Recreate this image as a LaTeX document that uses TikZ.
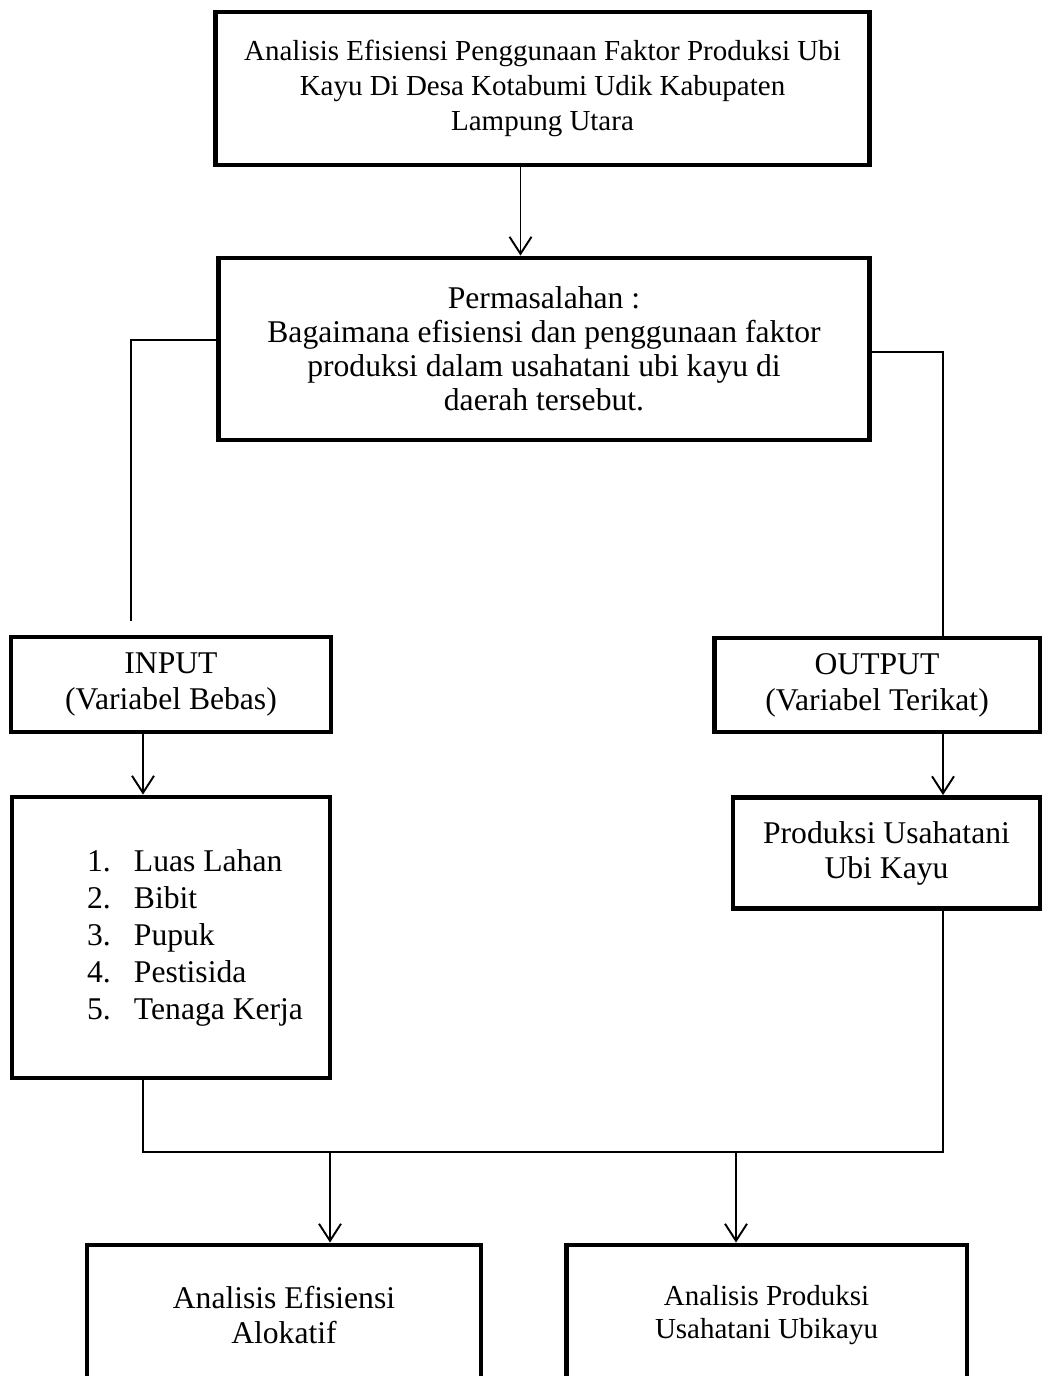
\documentclass[tikz,border=0pt]{standalone}
\usepackage{fontspec}
\setmainfont{Liberation Serif}
\usetikzlibrary{arrows.meta,calc}

\begin{document}
\begin{tikzpicture}[x=0.02cm,y=-0.02cm,
  box/.style={draw,line width=2.8pt,inner sep=0pt,align=center,font=\fontsize{18}{20}\selectfont},
  conn/.style={line width=1.1pt},
  arr/.style={line width=1.1pt,-{Straight Barb[length=3.4mm,width=4.4mm]}}]
\useasboundingbox (0,0) rectangle (1042,1376);
% title and problem
\node[box,minimum width=13.1cm,minimum height=3.06cm,font=\fontsize{16.5}{19.9}\selectfont] (top) at (542.5,88.5) {Analisis Efisiensi Penggunaan Faktor Produksi Ubi\\Kayu Di Desa Kotabumi Udik Kabupaten\\Lampung Utara};
\node[box,minimum width=13.04cm,minimum height=3.64cm,font=\fontsize{18}{19.3}\selectfont] (perm) at (544,349) {Permasalahan :\\Bagaimana efisiensi dan penggunaan faktor\\produksi dalam usahatani ubi kayu di\\daerah tersebut.};

% input and output side
\node[box,minimum width=6.4cm,minimum height=1.9cm,font=\fontsize{18}{20.5}\selectfont] (input) at (171,684.5) {INPUT\\(Variabel Bebas)};
\node[box,minimum width=6.36cm,minimum height=5.62cm] (list) at (171,937.5) {};
\node[align=left,inner sep=0pt,font=\fontsize{18}{21}\selectfont] (items) at (195,938) {\makebox[0.94cm][l]{1.}Luas Lahan\\\makebox[0.94cm][l]{2.}Bibit\\\makebox[0.94cm][l]{3.}Pupuk\\\makebox[0.94cm][l]{4.}Pestisida\\\makebox[0.94cm][l]{5.}Tenaga Kerja};
\node[box,minimum width=6.52cm,minimum height=1.88cm,font=\fontsize{18}{20.5}\selectfont] (output) at (877,685) {OUTPUT\\(Variabel Terikat)};
\node[box,minimum width=6.14cm,minimum height=2.22cm] (prod) at (886.5,853) {Produksi Usahatani\\Ubi Kayu};

% analysis boxes
\node[box,minimum width=7.88cm,minimum height=2.8cm] (anaE) at (284,1315) {Analisis Efisiensi\\Alokatif};
\node[box,minimum width=8.02cm,minimum height=2.8cm,font=\fontsize{16.5}{19}\selectfont] (anaP) at (766.5,1315) {Analisis Produksi\\Usahatani Ubikayu};

% connectors
\coordinate (a1) at ($(top.south)+(-22,0)$);
\draw[arr] (a1) -- (a1 |- perm.north);
\coordinate (p1) at ($(perm.west)+(0,-9)$);
\coordinate (inTop) at ($(input.north)+(-40,-14)$);
\draw[conn] (p1) -| (inTop);
\coordinate (p2) at ($(perm.east)+(0,3)$);
\coordinate (outTop) at ($(output.north)+(66,0)$);
\draw[conn] (p2) -| (outTop);
\coordinate (a2) at ($(input.south)+(-28,0)$);
\draw[arr] (a2) -- (a2 |- list.north);
\coordinate (a3) at ($(output.south)+(66,0)$);
\draw[arr] (a3) -- (a3 |- prod.north);
\coordinate (jr) at (943,1152);
\coordinate (jl) at (143,1152);
\draw[conn] (prod.south -| jr) -- (jr) -- (jl) -- (jl |- list.south);
\coordinate (b1) at (330,1152);
\coordinate (b2) at (736,1152);
\draw[arr] (b1) -- (b1 |- anaE.north);
\draw[arr] (b2) -- (b2 |- anaP.north);
\end{tikzpicture}
\end{document}
